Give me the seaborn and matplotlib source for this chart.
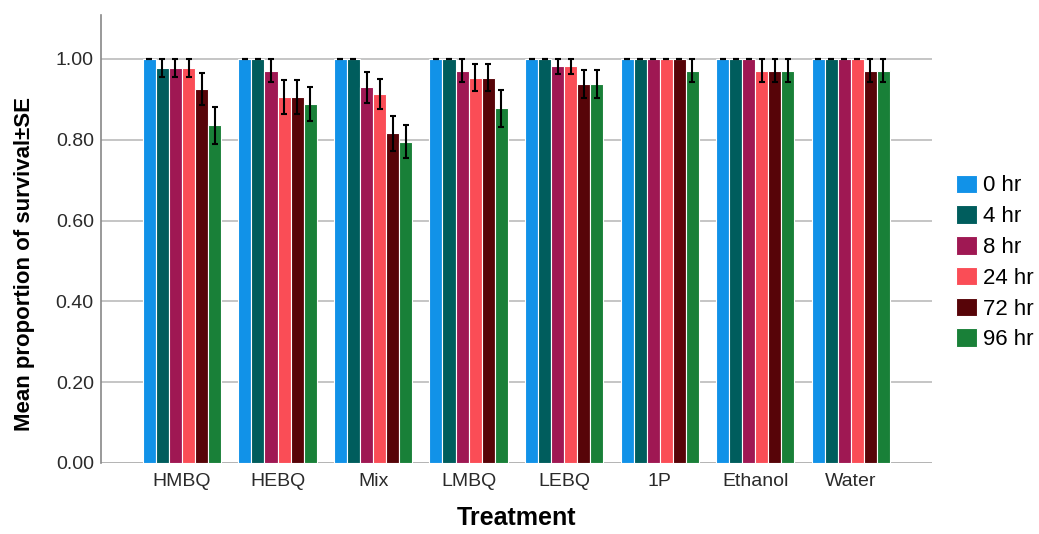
import matplotlib
matplotlib.use("Agg")
import matplotlib.pyplot as plt
import seaborn as sns
import pandas as pd

# data
treatments = ["HMBQ", "HEBQ", "Mix", "LMBQ", "LEBQ", "1P", "Ethanol", "Water"]
times = ["0 hr", "4 hr", "8 hr", "24 hr", "72 hr", "96 hr"]

# mean survival, one list per time point (in treatment order)
mean_0 = [1.00, 1.00, 1.00, 1.00, 1.00, 1.00, 1.00, 1.00]
mean_4 = [0.978, 1.00, 1.00, 1.00, 1.00, 1.00, 1.00, 1.00]
mean_8 = [0.978, 0.971, 0.930, 0.971, 0.982, 1.00, 1.00, 1.00]
mean_24 = [0.978, 0.906, 0.913, 0.954, 0.982, 1.00, 0.971, 1.00]
mean_72 = [0.925, 0.906, 0.816, 0.954, 0.938, 1.00, 0.971, 0.971]
mean_96 = [0.836, 0.889, 0.795, 0.878, 0.938, 0.971, 0.971, 0.971]

# standard errors
se_0 = [0, 0, 0, 0, 0, 0, 0, 0]
se_4 = [0.022, 0, 0, 0, 0, 0, 0, 0]
se_8 = [0.022, 0.029, 0.038, 0.029, 0.018, 0, 0, 0]
se_24 = [0.022, 0.043, 0.038, 0.033, 0.018, 0, 0.029, 0]
se_72 = [0.040, 0.043, 0.043, 0.033, 0.035, 0, 0.029, 0.029]
se_96 = [0.046, 0.042, 0.041, 0.046, 0.035, 0.029, 0.029, 0.029]

colors = ["#1192e8", "#005d5d", "#9f1853", "#fa4d56", "#570408", "#198038"]

means = [mean_0, mean_4, mean_8, mean_24, mean_72, mean_96]
ses = [se_0, se_4, se_8, se_24, se_72, se_96]

rows = []
for t, m, s in zip(times, means, ses):
    for tr, mv, sv in zip(treatments, m, s):
        rows.append({"Treatment": tr, "Time": t, "mean": mv, "se": sv})
df = pd.DataFrame(rows)

plt.rcParams["font.family"] = ["Liberation Sans", "DejaVu Sans"]

fig = plt.figure(figsize=(10.39, 5.34), dpi=100)
ax = fig.add_axes([0.097, 0.133, 0.800, 0.839])

sns.barplot(data=df, x="Treatment", y="mean", hue="Time", order=treatments,
            hue_order=times, palette=colors, width=0.82, errorbar=None,
            edgecolor="white", linewidth=0.8, saturation=1, ax=ax)

# error bars at the centre of each bar
for cont, t in zip(ax.containers, times):
    sub = df[df["Time"] == t].set_index("Treatment").loc[treatments]
    xs = [p.get_x() + p.get_width() / 2 for p in cont.patches]
    ax.errorbar(xs, sub["mean"], yerr=sub["se"], fmt="none", ecolor="black",
                elinewidth=1.5, capsize=2.5, capthick=1.5, zorder=5)

ax.set_ylim(0, 1.109)
ax.set_xlim(-0.85, 7.85)
ax.set_yticks([0, 0.2, 0.4, 0.6, 0.8, 1.0])
ax.set_yticklabels(["0.00", "0.20", "0.40", "0.60", "0.80", "1.00"])
ax.yaxis.grid(True, color="#bbbbbb", linewidth=1.2)
ax.set_axisbelow(True)
ax.tick_params(length=0, labelsize=14, labelcolor="#2a2a2a")
ax.tick_params(axis="y", pad=5)
ax.tick_params(axis="x", pad=7)
for s in ["top", "right", "bottom"]:
    ax.spines[s].set_visible(False)
ax.spines["left"].set_color("#888888")
ax.spines["left"].set_linewidth(1.2)
ax.axhline(0, color="#888888", linewidth=1.2, zorder=0)

ax.set_xlabel("Treatment", fontsize=18, fontweight="bold", labelpad=12)
ax.set_ylabel("Mean proportion of survival\u00b1SE", fontsize=16,
              fontweight="bold")
ax.yaxis.set_label_coords(-0.079, 0.444)

leg = ax.legend(loc="center left", bbox_to_anchor=(1.018, 0.4475), frameon=False,
                fontsize=16, handlelength=0.95, handleheight=0.9,
                handletextpad=0.25, labelspacing=0.4, borderaxespad=0)

fig.savefig("out.png", dpi=100)
